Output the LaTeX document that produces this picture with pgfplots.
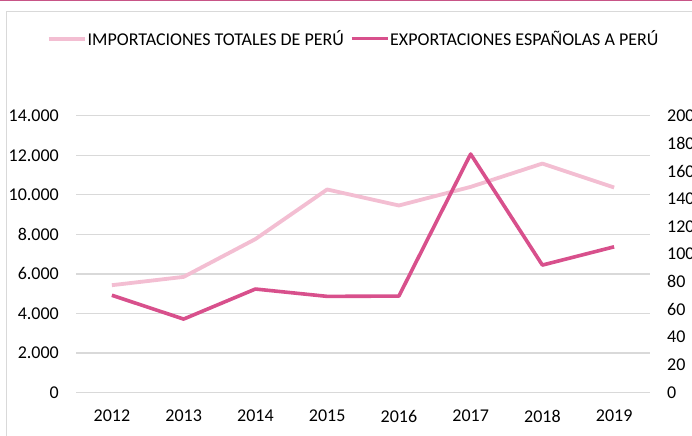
\documentclass[border=0pt]{standalone}
\usepackage{fontspec}
\setmainfont{Carlito}
\usepackage{pgfplots}
\pgfplotsset{compat=1.18}
\definecolor{lightpink}{RGB}{243,190,210}
\definecolor{darkpink}{RGB}{216,80,140}
\definecolor{gridgray}{RGB}{217,217,217}
\definecolor{framepink}{RGB}{200,85,135}
\begin{document}
\begin{tikzpicture}[x=1bp,y=1bp]
\useasboundingbox (0,0) rectangle (692,436);
\fill[white] (0,0) rectangle (692,436);
\draw[framepink, line width=1.6bp] (0,435.4) -- (692,435.4);
\draw[gridgray, line width=1bp] (6,0) -- (6,424) -- (692,424);
\pgfplotsset{common/.style={
  at={(76bp,43.4bp)}, anchor=south west, scale only axis,
  width=574bp, height=276.9bp,
  xmin=2011.5, xmax=2019.5, ymin=0,
  axis line style={draw=none}, major tick length=0pt,
  tick label style={font=\fontsize{18bp}{21bp}\selectfont},
  /pgf/number format/assume math mode=true,
  scaled y ticks=false,
  clip=false,
}}
\begin{axis}[common, ymax=14000, ytick={0,2000,...,14000},
  ymajorgrids, grid style={gridgray, line width=1.2bp},
  xtick={2012,2013,2014,2015,2016,2017,2018,2019},
  xticklabels={2012,2013,2014,2015,2016,2017,2018,2019},
  xticklabel style={anchor=north, inner sep=0pt, yshift=-17.4bp},
  yticklabel style={anchor=east, inner sep=0pt, xshift=-17bp},
  /pgf/number format/1000 sep={.},
]
\addplot[lightpink, line width=3.8bp, line join=round] coordinates {
(2012,5430) (2013,5850) (2014,7760) (2015,10270) (2016,9460) (2017,10400) (2018,11580) (2019,10370)};
\end{axis}
\begin{axis}[common, ymax=200, ytick={0,20,...,200},
  axis x line=none, axis y line*=right,
  yticklabel style={anchor=west, inner sep=0pt, xshift=17bp},
  legend columns=2,
  legend style={at={(-0.0508,1.2783)}, anchor=west, draw=none, fill=none,
    inner sep=0pt, font=\fontsize{18bp}{21bp}\selectfont,
    nodes={inner sep=0.8bp},
    /tikz/every even column/.append style={column sep=5bp}},
  legend image code/.code={\draw[#1] (0bp,0bp) -- (36bp,0bp);},
]
\addlegendimage{lightpink, line width=3.8bp}
\addlegendentry{IMPORTACIONES TOTALES DE PERÚ}
\addplot[darkpink, line width=3.6bp, line join=round] coordinates {
(2012,70.3) (2013,53.1) (2014,74.8) (2015,69.5) (2016,69.7) (2017,172.3) (2018,92.1) (2019,105.3)};
\addlegendentry{EXPORTACIONES ESPAÑOLAS A PERÚ}
\end{axis}
\end{tikzpicture}
\end{document}
